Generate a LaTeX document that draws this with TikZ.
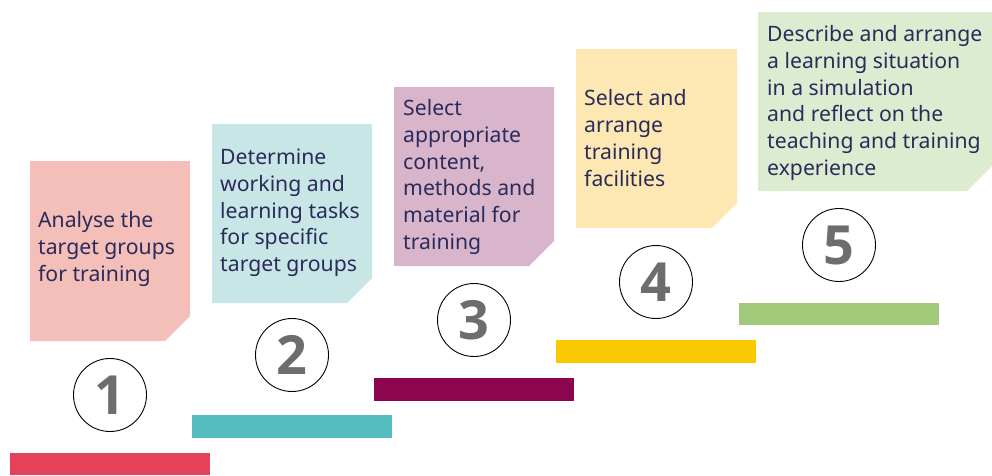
\documentclass[tikz,border=0pt]{standalone}
\usepackage{fontspec}
\setmainfont{Noto Sans}
\newfontfamily\numfont{Open Sans}
\definecolor{txt}{HTML}{2B2B5B}
\definecolor{cardA}{HTML}{F4BEB9}
\definecolor{cardB}{HTML}{C8E6E6}
\definecolor{cardC}{HTML}{D9B5CB}
\definecolor{cardD}{HTML}{FDE8B3}
\definecolor{cardE}{HTML}{DDEBD0}
\definecolor{barA}{HTML}{E5415A}
\definecolor{barB}{HTML}{56BDBE}
\definecolor{barC}{HTML}{8B064E}
\definecolor{barD}{HTML}{F9C800}
\definecolor{barE}{HTML}{A2C879}
\definecolor{numgray}{HTML}{6D6D6D}
\begin{document}
\begin{tikzpicture}[x=1pt,y=-1pt,
  cardtext/.style={anchor=west,inner sep=0pt,align=left,text=txt,
    font=\fontsize{21.2}{26.7}\selectfont},
  numcircle/.style={circle,draw=black,line width=0.9pt,minimum size=73pt,inner sep=0pt,
    text=numgray,font=\numfont\bfseries\fontsize{54}{54}\selectfont}]
\useasboundingbox (0,0) rectangle (992,475);
% cards
\fill[cardA] (30,161) -- (190,161) -- (190,316) -- (165,341) -- (30,341) -- cycle;
\fill[cardB] (212,124) -- (372,124) -- (372,278) -- (347,303) -- (212,303) -- cycle;
\fill[cardC] (394,87) -- (554,87) -- (554,241) -- (529,266) -- (394,266) -- cycle;
\fill[cardD] (576,49) -- (737,49) -- (737,203) -- (712,228) -- (576,228) -- cycle;
\fill[cardE] (758,12) -- (992,12) -- (992,166) -- (967,191) -- (758,191) -- cycle;
% texts
\node[cardtext] (t1) at (38,249) {Analyse the\\target groups\\for training};
\node[cardtext] (t2) at (220,213) {Determine\\working and\\learning tasks\\for specific\\target groups};
\node[cardtext] (t3) at (403,177) {Select\\appropriate\\content,\\methods and\\material for\\training};
\node[cardtext] (t4) at (584,138) {Select and\\arrange\\training\\facilities};
\node[cardtext] (t5) at (767,103) {Describe and arrange\\a learning situation\\in a simulation\\and reflect on the\\teaching and training\\experience};
% number circles
\node[numcircle] (n1) at (110,395) {1};
\node[numcircle] (n2) at (292,355) {2};
\node[numcircle] (n3) at (474,320) {3};
\node[numcircle] (n4) at (656,282) {4};
\node[numcircle] (n5) at (839,245) {5};
% step bars
\fill[barA] (10,453) rectangle (210,475);
\fill[barB] (192,415) rectangle (392,438);
\fill[barC] (374,378) rectangle (574,401);
\fill[barD] (556,340) rectangle (756,363);
\fill[barE] (739,303) rectangle (939,325);
\end{tikzpicture}
\end{document}
